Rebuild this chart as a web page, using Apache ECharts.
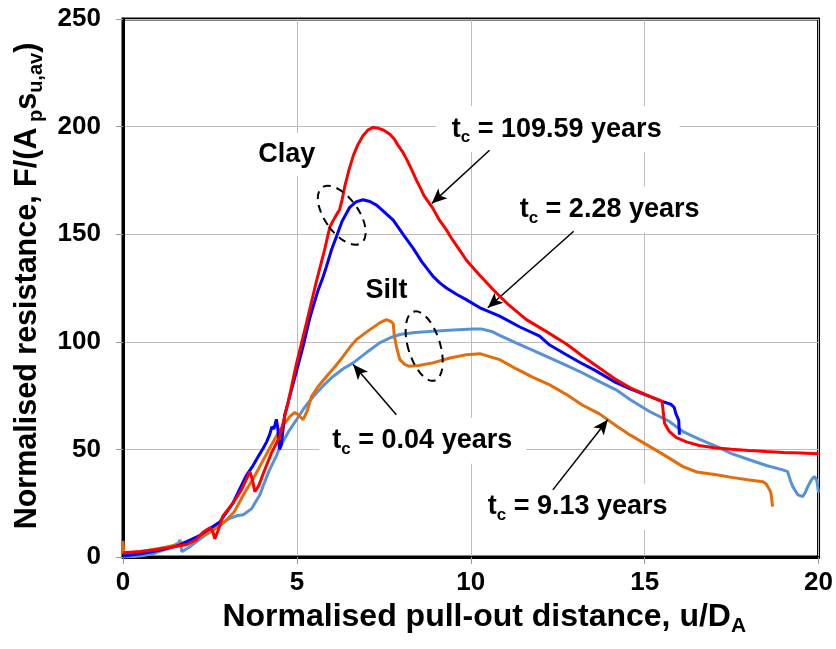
<!DOCTYPE html>
<html><head><meta charset="utf-8">
<script src="https://cdn.jsdelivr.net/npm/echarts/dist/echarts.min.js"></script>
<style>html,body{margin:0;padding:0;background:#fff}#c{width:836px;height:649px}</style>
</head><body><div id="c"></div>
<script>
const FONT = '"Liberation Sans", Arial, Helvetica, sans-serif';

// Series data: [u/D_A, F/(A_p s_u,av)]
const red109 = [[0,2],[0.5,2.6],[0.86,3.3],[1.3,4.3],[1.84,5.8],[2.1,8],[2.3,11.5],[2.5,13.6],[2.58,12],[2.64,8.4],[2.75,13],[2.87,19],[3.16,25],[3.4,31],[3.65,39.7],[3.72,36],[3.79,30.4],[3.9,33],[4.02,38.2],[4.27,48.4],[4.51,56],[4.75,72],[4.99,90],[5.28,109],[5.56,128],[5.8,143],[5.95,153.5],[6.09,157.7],[6.23,161.5],[6.3,166],[6.38,172.4],[6.5,180],[6.62,186.4],[6.75,191.5],[6.9,195.7],[7.05,198.5],[7.19,199.6],[7.35,199.2],[7.5,198.3],[7.67,196.5],[7.8,194.2],[7.9,191.5],[8.05,188],[8.15,185],[8.3,180],[8.44,175],[8.55,171.5],[8.65,168],[8.78,165],[8.91,162],[9.1,156.5],[9.3,152],[9.45,148],[9.6,144.5],[9.75,141],[9.87,138],[10.25,131],[10.64,124.3],[11.1,117],[11.6,110.3],[12.2,104.5],[12.75,99],[13.22,93.3],[13.7,87.8],[14.18,82.4],[14.6,78.5],[15.1,75],[15.5,72.3],[15.53,68],[15.57,62.2],[15.7,58.5],[15.9,55.6],[16.2,53.5],[16.57,51.8],[17.0,50.8],[17.5,50.1],[18.0,49.5],[18.5,49],[19.0,48.6],[19.5,48.3],[20,48]];
const blue228 = [[0,0.5],[0.5,1.5],[0.86,2.5],[1.3,4],[1.64,5.6],[2.2,10],[2.79,16.4],[3.16,25],[3.4,33],[3.55,38],[3.74,42.5],[3.9,47],[4.03,50.5],[4.13,53.5],[4.22,57],[4.28,60.5],[4.34,59.5],[4.41,64],[4.45,60],[4.5,50],[4.55,52],[4.65,66],[4.8,75],[5.0,87],[5.18,98],[5.37,111],[5.47,116.5],[5.6,123.5],[5.75,130],[5.85,135],[6.0,143],[6.14,149],[6.3,156],[6.52,162.5],[6.7,165],[6.9,166],[7.1,165.2],[7.29,163.5],[7.5,160.5],[7.77,156.5],[8.05,150],[8.34,143.5],[8.6,137],[8.91,130.5],[9.1,127.5],[9.3,125],[9.6,122],[9.87,119.6],[10.3,115.5],[10.83,111.9],[11.4,107],[11.98,102.6],[12.27,98.5],[12.75,94],[13.13,90.5],[13.6,86.5],[14.18,81],[14.6,78],[15.14,74.6],[15.5,72.3],[15.75,71],[15.85,69.5],[15.9,66.5],[15.98,63.5],[16.0,56.8]];
const orange913 = [[0,7.5],[0.02,1.5],[0.5,2.5],[1.0,3.8],[1.5,5.5],[2.0,8],[2.5,11.5],[2.9,16],[3.2,21],[3.5,30],[3.8,38],[4.03,45],[4.3,53],[4.51,59],[4.8,65.3],[4.94,67.2],[5.05,66],[5.18,63.8],[5.3,68],[5.42,74.6],[5.6,79],[5.85,83.9],[6.1,88.5],[6.33,93.2],[6.5,97],[6.71,101],[7.0,104.5],[7.38,108.8],[7.57,110.3],[7.7,109.5],[7.77,108.5],[7.8,103],[7.86,97.9],[7.96,91.7],[8.1,89.5],[8.24,88.6],[8.5,89],[8.91,90.2],[9.4,92.5],[9.87,94],[10.26,94.5],[10.83,91.7],[11.3,87.5],[11.79,83.5],[12.27,80],[12.75,75.5],[13.22,70.5],[13.7,66.5],[14.18,61],[14.6,56.5],[15.14,51.4],[15.6,47],[16.1,42],[16.5,39.5],[17.06,38.2],[17.5,37],[18.01,35.8],[18.4,35],[18.49,34],[18.6,31],[18.63,29.7],[18.68,23.4]];
const lb004 = [[0,0],[0.5,0.5],[0.86,1.5],[1.3,4],[1.6,6.5],[1.64,8],[1.69,2.5],[1.9,4.5],[2.31,9.5],[2.7,14],[3.07,18],[3.3,19.3],[3.46,19.6],[3.7,22.5],[3.94,29],[4.03,33],[4.2,40],[4.41,47],[4.51,51],[4.75,58],[4.99,63.8],[5.2,69],[5.47,74.6],[5.75,79.5],[6.04,83.9],[6.33,87.5],[6.62,90.2],[7.0,95],[7.38,99.5],[7.7,102],[7.96,103.4],[8.4,104.3],[8.91,104.9],[9.5,105.5],[10.06,106],[10.3,106],[10.6,104.8],[10.83,103],[11.3,99.5],[11.79,96],[12.27,92.5],[12.75,89],[13.22,85.5],[13.7,81.5],[14.18,77.7],[14.6,73],[15.14,67.6],[15.71,63],[16.1,58.3],[16.6,54.5],[17.06,51.4],[17.5,48],[18.01,45.2],[18.5,42.5],[18.97,40.5],[19.11,39.7],[19.2,35],[19.26,32.7],[19.4,29],[19.54,28],[19.62,30],[19.69,32.7],[19.8,36],[19.88,37.4],[19.95,35.5],[20,30]];

// Axis ranges
const xRange = {min: 0, max: 20, interval: 5};
const yRange = {min: 0, max: 250, interval: 50};

// Annotations (data coordinates)
const labelTexts = [
  {x: 12.5,  y: 198.8, text: '{m|t}{s|c}{m| = 109.59 years}', pad: [6, 18, 6, 16]},
  {x: 14.02, y: 161.5, text: '{m|t}{s|c}{m| = 2.28 years}',   pad: [6, 26, 6, 24]},
  {x: 8.62,  y: 54,    text: '{m|t}{s|c}{m| = 0.04 years}',   pad: [6, 14, 6, 13]},
  {x: 13.16, y: 23.3,  text: '{m|t}{s|c}{m| = 9.13 years}',   pad: [6, 18, 6, 12]},
  {x: 4.71,  y: 187,   text: '{m|Clay}', pad: [8, 10, 8, 10]},
  {x: 7.58,  y: 123.8, text: '{m|Silt}', pad: [8, 10, 8, 10]}
];
const arrows = [
  [10.54, 189.0, 8.88, 164.3],
  [12.96, 151.4, 10.49, 115.8],
  [7.86, 66.1, 6.62, 89.4],
  [12.36, 31.2, 13.94, 63.8]
];
const ellipses = [
  {x: 6.29, y: 158.8, rx: 17, ry: 34, rot: 35},
  {x: 8.66, y: 98.0,  rx: 16, ry: 36, rot: 17}
];

const chart = echarts.init(document.getElementById('c'), null, {renderer: 'canvas'});

const tickFont = {fontSize: 26, fontWeight: 'bold', fontFamily: FONT, color: '#000'};
const subX = {fontSize: 21, fontWeight: 'bold', fontFamily: FONT, color: '#000', padding: [19, 0, 0, 0]};
const subY = {fontSize: 20, fontWeight: 'bold', fontFamily: FONT, color: '#000', padding: [18, 0, 0, 0]};

function lineSeries(name, data, color, z) {
  return {
    name, type: 'line', data, showSymbol: false, symbol: 'none', z,
    lineStyle: {color, width: 3}, itemStyle: {color},
    emphasis: {disabled: true}, silent: true, animation: false
  };
}

const series = [
  lineSeries('t_c = 0.04 years', lb004, '#5892d6', 2),
  lineSeries('t_c = 9.13 years', orange913, '#e46c0a', 3),
  lineSeries('t_c = 2.28 years', blue228, '#0000ff', 4),
  lineSeries('t_c = 109.59 years', red109, '#ff0000', 5)
];
series[3].markLine = {
  silent: true, animation: false, symbol: ['none', 'arrow'], symbolSize: [10, 15],
  label: {show: false}, emphasis: {disabled: true},
  lineStyle: {color: '#000', width: 1.5, type: 'solid'},
  data: arrows.map(a => [{coord: [a[0], a[1]]}, {coord: [a[2], a[3]]}])
};

chart.setOption({
  animation: false,
  backgroundColor: '#fff',
  grid: {left: 123, right: 16, top: 19, bottom: 92, show: true, borderColor: '#000', borderWidth: 3, containLabel: false},
  xAxis: {
    type: 'value', min: xRange.min, max: xRange.max, interval: xRange.interval,
    name: 'Normalised pull-out distance, u/D{s|A}', nameLocation: 'middle', nameGap: 34,
    nameTextStyle: {fontSize: 32, fontWeight: 'bold', fontFamily: FONT, color: '#000', padding: [0, 0, 0, 27], rich: {s: subX}},
    axisLine: {show: true, onZero: false, lineStyle: {color: '#000', width: 3}},
    axisTick: {show: true, inside: false, length: 7, lineStyle: {color: '#999', width: 1}},
    axisLabel: Object.assign({margin: 13}, tickFont),
    splitLine: {show: true, lineStyle: {color: '#bdbdbd', width: 1}}
  },
  yAxis: {
    type: 'value', min: yRange.min, max: yRange.max, interval: yRange.interval,
    name: 'Normalised resistance, F/(A{s| p}s{s|u,av})', nameLocation: 'middle', nameGap: 73,
    nameTextStyle: {fontSize: 30.5, fontWeight: 'bold', fontFamily: FONT, color: '#000', padding: [0, 0, 0, 4], rich: {s: subY}},
    axisLine: {show: true, onZero: false, lineStyle: {color: '#000', width: 3}},
    axisTick: {show: true, inside: false, length: 7, lineStyle: {color: '#999', width: 1}},
    axisLabel: Object.assign({margin: 22}, tickFont),
    splitLine: {show: true, lineStyle: {color: '#bdbdbd', width: 1}}
  },
  series
});

const mRich = {
  m: {fontSize: 27, fontWeight: 'bold', fontFamily: FONT, fill: '#000'},
  s: {fontSize: 17, fontWeight: 'bold', fontFamily: FONT, fill: '#000', padding: [17, 0, 0, 0]}
};
const graphics = [];
labelTexts.forEach(l => {
  const p = chart.convertToPixel({gridIndex: 0}, [l.x, l.y]);
  graphics.push({
    type: 'text', x: p[0], y: p[1], z: 1, silent: true,
    style: {text: l.text, rich: mRich, align: 'center', verticalAlign: 'middle', backgroundColor: '#fff', padding: l.pad}
  });
});
ellipses.forEach(e => {
  const p = chart.convertToPixel({gridIndex: 0}, [e.x, e.y]);
  graphics.push({
    type: 'ellipse', x: p[0], y: p[1], rotation: e.rot * Math.PI / 180, z: 10, silent: true,
    shape: {cx: 0, cy: 0, rx: e.rx, ry: e.ry},
    style: {fill: 'none', stroke: '#000', lineWidth: 2, lineDash: [8, 6]}
  });
});
chart.setOption({graphic: graphics});
</script>
</body></html>
